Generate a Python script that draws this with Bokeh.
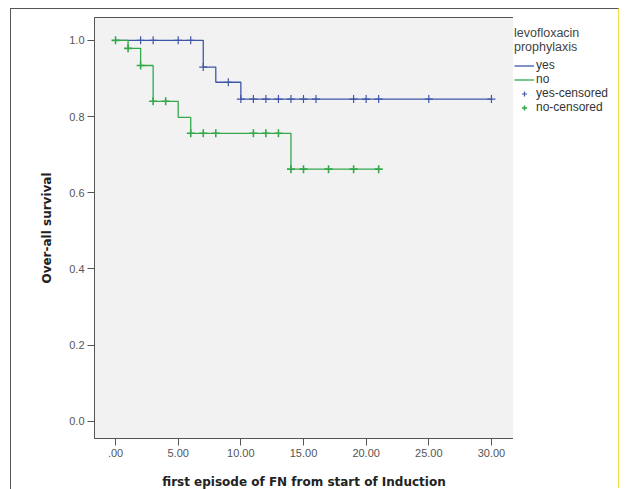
import numpy as np
from bokeh.plotting import figure
from bokeh.layouts import row
from bokeh.models import FixedTicker, Legend, LegendItem, Range1d
from bokeh.embed import file_html
from bokeh.resources import INLINE

# Kaplan-Meier step data (time, survival)
yes_times = [0, 7, 8, 10, 30]
yes_surv = [1.0, 0.93, 0.89, 0.846, 0.846]
yes_cens_t = [2, 3, 5, 6, 7, 9, 10, 11, 12, 13, 14, 15, 16, 19, 20, 21, 25, 30]

no_times = [0, 1, 2, 3, 5, 6, 14, 21]
no_surv = [1.0, 0.979, 0.934, 0.84, 0.798, 0.756, 0.662, 0.662]
no_cens_t = [0, 1, 2, 3, 4, 6, 7, 8, 11, 12, 13, 14, 15, 17, 19, 21]

x_ticks = [0, 5, 10, 15, 20, 25, 30]
x_tick_labels = [".00", "5.00", "10.00", "15.00", "20.00", "25.00", "30.00"]
y_ticks = [0.0, 0.2, 0.4, 0.6, 0.8, 1.0]
y_tick_labels = ["0.0", "0.2", "0.4", "0.6", "0.8", "1.0"]

legend_title = "levofloxacin\nprophylaxis"
legend_labels = ["yes", "no", "yes-censored", "no-censored"]

BLUE = "#3f56a8"
GREEN = "#34a84a"
FONT = "DejaVu Sans"


def surv_at(times, surv, t):
    idx = np.searchsorted(np.array(times), t, side="right") - 1
    return [surv[i] for i in idx]


def add_series(fig):
    a = fig.step(yes_times, yes_surv, mode="after", line_color=BLUE, line_width=1.3)
    b = fig.step(no_times, no_surv, mode="after", line_color=GREEN, line_width=1.3)
    c = fig.scatter(yes_cens_t, surv_at(yes_times, yes_surv, yes_cens_t), marker="cross",
                    size=8, line_color=BLUE, line_width=1.2)
    d = fig.scatter(no_cens_t, surv_at(no_times, no_surv, no_cens_t), marker="cross",
                    size=8, line_color=GREEN, line_width=1.6)
    return [a, b, c, d]


p = figure(frame_width=418, frame_height=420, output_backend="svg", toolbar_location=None,
           x_range=Range1d(-1.68, 31.76), y_range=Range1d(-0.045, 1.06),
           min_border_left=83, min_border_right=1, min_border_top=8,
           min_border_bottom=51)
p.styles = {"border-left": "1px solid #555", "border-top": "1px solid #555"}

p.background_fill_color = "#f2f2f2"
p.border_fill_color = "white"
p.outline_line_color = "#555555"
p.outline_line_width = 1
p.grid.visible = False

for ax in (p.xaxis[0], p.yaxis[0]):
    ax.axis_line_color = "#555555"
    ax.major_tick_line_color = "#555555"
    ax.minor_tick_line_color = None
    ax.major_tick_in = 0
    ax.major_tick_out = 7
    ax.major_label_text_font = "Liberation Sans"
    ax.major_label_text_font_size = "11px"
    ax.major_label_text_color = "#555555"
    ax.axis_label_text_font = FONT
    ax.axis_label_text_font_style = "bold"
    ax.axis_label_text_font_size = "12px"
    ax.axis_label_text_color = "#222222"

p.xaxis.ticker = FixedTicker(ticks=x_ticks)
p.xaxis.major_label_overrides = dict(zip(x_ticks, x_tick_labels))
p.yaxis.ticker = FixedTicker(ticks=y_ticks)
p.yaxis.major_label_overrides = dict(zip(y_ticks, y_tick_labels))
p.xaxis.axis_label = "first episode of FN from start of Induction"
p.yaxis.axis_label = "Over-all survival"
p.xaxis.major_label_standoff = 3
p.xaxis.axis_label_standoff = 15
p.yaxis.major_label_standoff = 3
p.yaxis.axis_label_standoff = 12

add_series(p)

# legend panel (separate figure so the legend is not clipped);
# its ranges keep the series themselves out of view, only the legend shows
pl = figure(width=106, height=480, output_backend="svg", toolbar_location=None,
            x_range=Range1d(-100, -99), y_range=Range1d(-100, -99),
            x_axis_type=None, y_axis_type=None, min_border=0)
pl.styles = {"border-top": "1px solid #555", "border-right": "1px solid #f0e040"}
pl.grid.visible = False
pl.outline_line_color = None
pl.background_fill_color = "white"
pl.border_fill_color = "white"

leg_renderers = add_series(pl)

legend = Legend(items=[LegendItem(label=lab, renderers=[r]) for lab, r in
                       zip(legend_labels, leg_renderers)],
                location=(1, 322))
legend.title = legend_title
legend.title_text_font = "Liberation Sans"
legend.title_text_font_size = "12.5px"
legend.title_text_font_style = "normal"
legend.title_text_color = "#444444"
legend.title_standoff = 4
legend.label_text_font = "Liberation Sans"
legend.label_text_font_size = "12px"
legend.label_text_color = "#333333"
legend.glyph_width = 20
legend.glyph_height = 13
legend.label_height = 13
legend.label_standoff = 2
legend.spacing = 0
legend.padding = 2
legend.margin = 0
legend.border_line_color = None
legend.background_fill_alpha = 0
pl.add_layout(legend)

layout = row(p, pl, spacing=0)
layout.styles = {"margin-left": "10px", "margin-top": "8px"}

open("out.html", "w").write(file_html(layout, INLINE))
